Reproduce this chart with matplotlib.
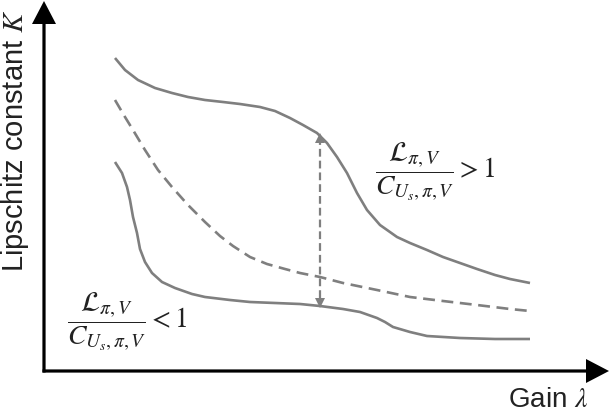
import matplotlib
matplotlib.use("Agg")
import matplotlib.pyplot as plt
from matplotlib.patches import FancyArrow

# ---- data (gain, K), arbitrary units ----
upper_gain = [71, 81, 94, 111, 128, 144, 161, 179, 196, 216, 231, 246, 259, 273, 283, 293,
              303, 313, 323, 336, 353, 366, 383, 399, 416, 433, 451, 466, 486]
upper_K = [313, 301, 291, 283, 278, 274, 271, 269, 267, 264, 260, 253, 246, 238, 228, 214,
           198, 178, 161, 146, 134, 128, 121, 114, 108, 102, 96, 92, 88]

mid_gain = [71, 81, 89, 101, 114, 128, 144, 161, 176, 189, 206, 223, 241, 256, 276, 299,
            333, 366, 399, 433, 466, 486]
mid_K = [271, 254, 241, 221, 201, 184, 166, 149, 135, 125, 114, 107, 102, 98, 94, 88,
         81, 74, 70, 66, 62, 60]

lower_gain = [71, 78, 83, 86, 89, 93, 96, 101, 108, 118, 131, 148, 161, 186, 206, 231,
              256, 276, 299, 316, 333, 341, 349, 366, 383, 416, 451, 486]
lower_K = [209, 198, 184, 171, 154, 138, 122, 109, 98, 89, 83, 77, 74, 71, 69, 68,
           67, 65, 62, 59, 53, 49, 44, 39, 35, 33, 32, 32]

gap_gain = 276
gap_upper = 238
gap_lower = 63

GRAY = "#7f7f7f"

plt.rcParams["font.family"] = ["Liberation Sans", "DejaVu Sans"]
plt.rcParams["mathtext.fontset"] = "stix"

fig = plt.figure(figsize=(6.10, 4.12), dpi=100)
ax = fig.add_axes([0, 0, 1, 1])
ax.set_xlim(-44, 566)
ax.set_ylim(-41, 371)
ax.axis("off")

# curves
ax.plot(upper_gain, upper_K, color=GRAY, lw=1.9, solid_capstyle="butt", solid_joinstyle="round")
ax.plot(mid_gain, mid_K, color=GRAY, lw=1.9, ls=(0, (4.5, 2.5)), dash_joinstyle="round")
ax.plot(lower_gain, lower_K, color=GRAY, lw=1.9, solid_capstyle="butt", solid_joinstyle="round")

# dashed double arrow between curves
head = 10
ax.plot([gap_gain, gap_gain], [gap_lower + head, gap_upper - head], color=GRAY, lw=1.6,
        ls=(0, (3.5, 1.8)))
ax.add_patch(FancyArrow(gap_gain, gap_upper - head, 0, head, width=0, head_width=10,
                        head_length=head, length_includes_head=True, color=GRAY, lw=0))
ax.add_patch(FancyArrow(gap_gain, gap_lower + head, 0, -head, width=0, head_width=10,
                        head_length=head, length_includes_head=True, color=GRAY, lw=0))

# axes arrows
ax.add_patch(FancyArrow(0, -1.5, 0, 371.5, width=3.2, head_width=24, head_length=23,
                        length_includes_head=True, color="black", lw=0))
ax.add_patch(FancyArrow(-1.5, 0, 566.5, 0, width=3.2, head_width=24, head_length=23,
                        length_includes_head=True, color="black", lw=0))

# labels
ax.text(-29, 230, "Lipschitz constant $K$", rotation=90, ha="center", va="center",
        fontsize=21, color="#222222")
ax.text(504, -29, "Gain $\\lambda$", ha="center", va="center", fontsize=20, color="#222222")

ax.text(331, 199, r"$\dfrac{\mathcal{L}_{\pi,V}}{C_{U_s,\pi,V}} > 1$", ha="left", va="center",
        fontsize=20, color="#222222")
ax.text(23, 49, r"$\dfrac{\mathcal{L}_{\pi,V}}{C_{U_s,\pi,V}} < 1$", ha="left", va="center",
        fontsize=20, color="#222222")

fig.savefig("out.png", dpi=100)
